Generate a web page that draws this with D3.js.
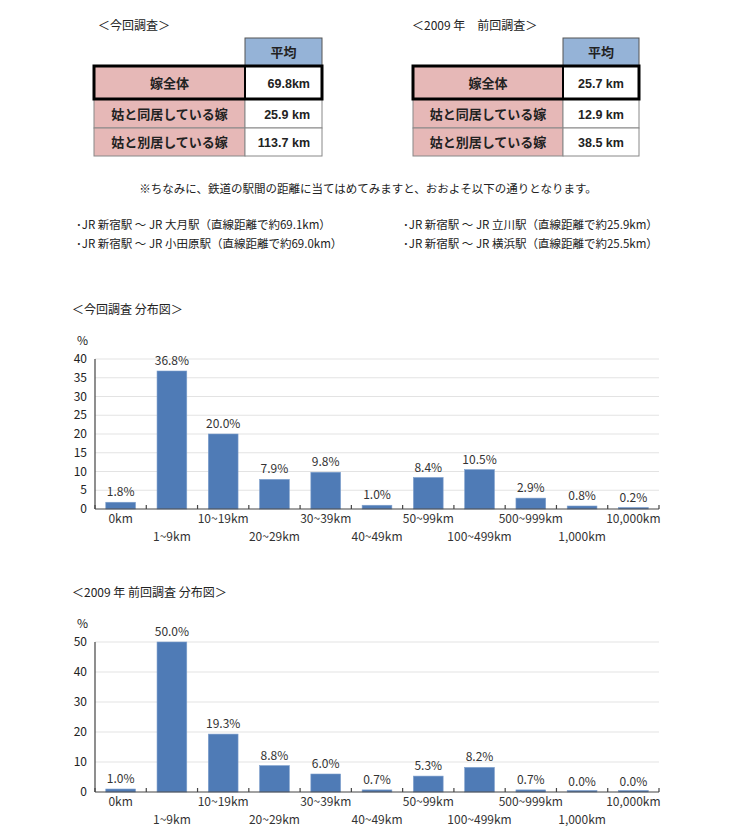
<!DOCTYPE html>
<html>
<head>
<meta charset="utf-8">
<script src="https://cdn.jsdelivr.net/npm/d3@7"></script>
<style>
  body { margin: 0; background: #fff; }
  text { font-family: "Noto Sans CJK JP", "Noto Sans", sans-serif; fill: #222; }
</style>
</head>
<body>
<svg id="chart" width="732" height="833"></svg>
<script>
// table data
const rowLabels = ["嫁全体", "姑と同居している嫁", "姑と別居している嫁"];
const avgNow = ["69.8km", "25.9 km", "113.7 km"];
const avgPrev = ["25.7 km", "12.9 km", "38.5 km"];

const noteText = "※ちなみに、鉄道の駅間の距離に当てはめてみますと、おおよそ以下の通りとなります。";
const stationsLeft = ["･JR 新宿駅 ～ JR 大月駅（直線距離で約69.1km）", "･JR 新宿駅 ～ JR 小田原駅（直線距離で約69.0km）"];
const stationsRight = ["･JR 新宿駅 ～ JR 立川駅（直線距離で約25.9km）", "･JR 新宿駅 ～ JR 横浜駅（直線距離で約25.5km）"];

// distribution data
const categories = ["0km", "1~9km", "10~19km", "20~29km", "30~39km", "40~49km",
                    "50~99km", "100~499km", "500~999km", "1,000km", "10,000km"];
const valuesNow  = [1.8, 36.8, 20.0, 7.9, 9.8, 1.0, 8.4, 10.5, 2.9, 0.8, 0.2];
const valuesPrev = [1.0, 50.0, 19.3, 8.8, 6.0, 0.7, 5.3, 8.2, 0.7, 0.0, 0.0];
const ticksNow  = [0, 5, 10, 15, 20, 25, 30, 35, 40];
const ticksPrev = [0, 10, 20, 30, 40, 50];

const svg = d3.select("#chart");

function drawTable(x0, titleX, labelW, valW, title, values, valueAlign) {
  const g = svg.append("g");
  g.append("text").attr("x", titleX).attr("y", 30)
    .style("font-size", "12px").text(title);

  // header
  g.append("rect").attr("x", x0 + labelW).attr("y", 38).attr("width", valW).attr("height", 28)
    .attr("fill", "#95b3d7").attr("stroke", "#555").attr("stroke-width", 1);
  g.append("text").attr("x", x0 + labelW + valW / 2).attr("y", 57)
    .attr("text-anchor", "middle").style("font-size", "13px").style("font-weight", "bold")
    .text("平均");

  const rowH = [33, 29, 28];
  let y = 66;
  rowLabels.forEach((lab, i) => {
    const h = rowH[i];
    g.append("rect").attr("x", x0).attr("y", y).attr("width", labelW).attr("height", h)
      .attr("fill", "#e6b8b7").attr("stroke", "#888").attr("stroke-width", 1);
    g.append("rect").attr("x", x0 + labelW).attr("y", y).attr("width", valW).attr("height", h)
      .attr("fill", "#fff").attr("stroke", "#888").attr("stroke-width", 1);
    g.append("text").attr("x", x0 + labelW / 2).attr("y", y + h / 2 + 5)
      .attr("text-anchor", "middle").style("font-size", "13px").style("font-weight", "bold")
      .text(lab);
    const vt = g.append("text").attr("y", y + h / 2 + 5)
      .style("font-family", "'Liberation Sans', Arial, sans-serif")
      .style("font-size", "12.5px").style("font-weight", "bold").text(values[i]);
    if (valueAlign == "right") vt.attr("x", x0 + labelW + valW - 12).attr("text-anchor", "end");
    else vt.attr("x", x0 + labelW + valW / 2).attr("text-anchor", "middle");
    y += h;
  });
  // thick frame around first row
  g.append("rect").attr("x", x0).attr("y", 66).attr("width", labelW + valW).attr("height", rowH[0])
    .attr("fill", "none").attr("stroke", "#000").attr("stroke-width", 3);
  g.append("line").attr("x1", x0 + labelW).attr("x2", x0 + labelW).attr("y1", 66).attr("y2", 66 + rowH[0])
    .attr("stroke", "#000").attr("stroke-width", 2);
}

drawTable(94, 98, 151, 77, "＜今回調査＞", avgNow, "right");
drawTable(413, 412, 150, 76, "＜2009 年　前回調査＞", avgPrev, "center");

svg.append("text").attr("x", 368).attr("y", 193).attr("text-anchor", "middle")
  .style("font-size", "11.5px").text(noteText);
stationsLeft.forEach((t, i) => {
  svg.append("text").attr("x", 76).attr("y", 229 + i * 19).style("font-size", "11.5px").text(t);
});
stationsRight.forEach((t, i) => {
  svg.append("text").attr("x", 403).attr("y", 229 + i * 19).style("font-size", "11.5px").text(t);
});

function drawChart(title, titleY, values, ticks, yTop, yBottom) {
  const g = svg.append("g");
  const x = d3.scaleBand().domain(categories).range([95, 659]).paddingInner(0.42).paddingOuter(0.21);
  const y = d3.scaleLinear().domain([0, d3.max(ticks)]).range([yBottom, yTop]);

  g.append("text").attr("x", 72).attr("y", titleY).style("font-size", "12px").text(title);
  g.append("text").attr("x", 77).attr("y", yTop - 14).style("font-size", "12px").text("%");

  // grid
  g.selectAll(".grid").data(ticks.slice(1)).enter().append("line")
    .attr("x1", 95).attr("x2", 659).attr("y1", d => y(d)).attr("y2", d => y(d))
    .attr("stroke", "#e3e3e3").attr("stroke-width", 1);

  // y labels
  g.selectAll(".ylab").data(ticks).enter().append("text")
    .attr("x", 87).attr("y", d => y(d)).attr("dy", "0.35em").attr("text-anchor", "end")
    .style("font-size", "12px").text(d => d);

  // bars
  g.selectAll(".bar").data(values).enter().append("rect")
    .attr("x", (d, i) => x(categories[i]))
    .attr("width", x.bandwidth())
    .attr("y", d => Math.min(y(d), yBottom - 1.5))
    .attr("height", d => Math.max(yBottom - y(d), 1.5))
    .attr("fill", "#4f7bb6").attr("stroke", "#7d9fcc").attr("stroke-width", 0.6);

  // value labels
  g.selectAll(".val").data(values).enter().append("text")
    .attr("x", (d, i) => x(categories[i]) + x.bandwidth() / 2)
    .attr("y", d => y(d) - 6).attr("text-anchor", "middle")
    .style("font-size", "12px").style("fill", "#333").text(d => d.toFixed(1) + "%");

  // axes
  g.append("line").attr("x1", 95).attr("x2", 95).attr("y1", yTop).attr("y2", yBottom)
    .attr("stroke", "#444").attr("stroke-width", 1.2);
  g.append("line").attr("x1", 95).attr("x2", 659).attr("y1", yBottom).attr("y2", yBottom)
    .attr("stroke", "#444").attr("stroke-width", 1.2);
  const step = x.step();
  d3.range(categories.length + 1).forEach(i => {
    const tx = 95 + i * step;
    g.append("line").attr("x1", tx).attr("x2", tx).attr("y1", yBottom - 4).attr("y2", yBottom)
      .attr("stroke", "#444").attr("stroke-width", 1.2);
  });

  // category labels, staggered
  g.selectAll(".xlab").data(categories).enter().append("text")
    .attr("x", d => x(d) + x.bandwidth() / 2)
    .attr("y", (d, i) => yBottom + (i % 2 == 0 ? 14 : 32))
    .attr("text-anchor", "middle").style("font-size", "12px").style("fill", "#333")
    .text(d => d);
}

drawChart("＜今回調査 分布図＞", 314, valuesNow, ticksNow, 359, 509);
drawChart("＜2009 年 前回調査 分布図＞", 597, valuesPrev, ticksPrev, 642, 792);
</script>
</body>
</html>
